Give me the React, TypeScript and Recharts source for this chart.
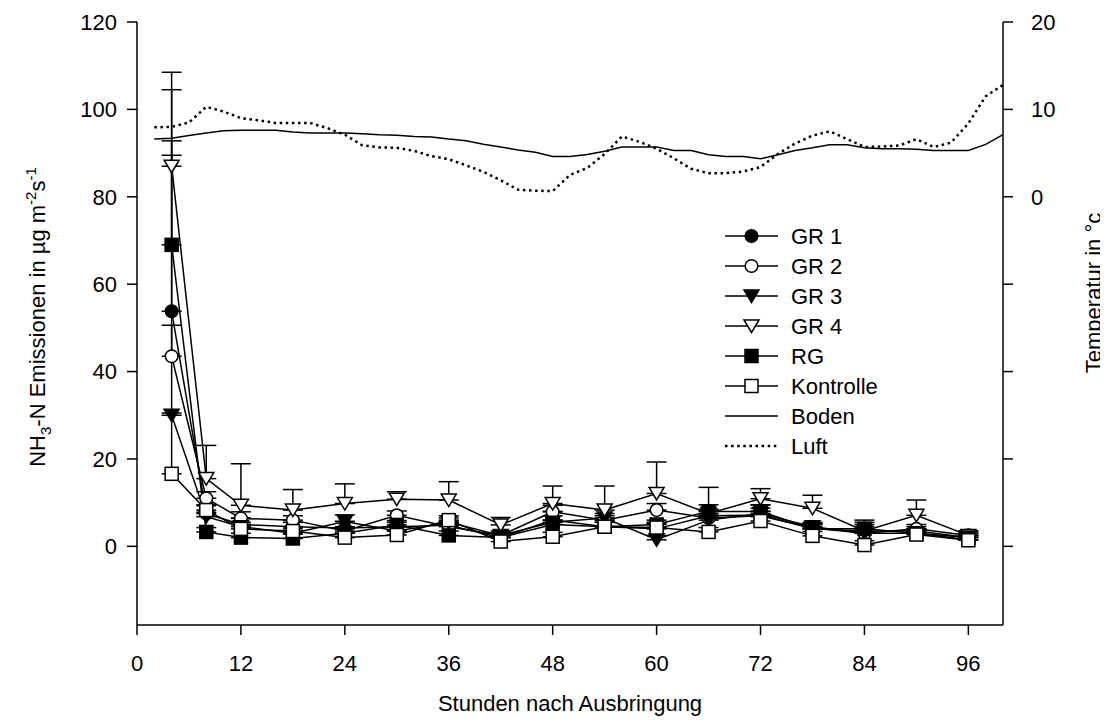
import React from "react";
import { ComposedChart, Line, XAxis, YAxis, ErrorBar, Label } from "recharts";

// hours after application (emission sampling)
const hours = [4, 8, 12, 18, 24, 30, 36, 42, 48, 54, 60, 66, 72, 78, 84, 90, 96];

const gr1 = [53.8, 7.5, 5.0, 4.5, 4.2, 4.5, 4.8, 2.0, 6.0, 4.5, 4.0, 7.0, 7.2, 4.0, 3.5, 3.5, 2.0];
const gr2 = [43.5, 11.0, 6.4, 6.0, 3.5, 7.1, 4.5, 2.5, 7.9, 6.0, 8.3, 6.5, 7.0, 4.2, 3.0, 4.0, 2.5];
const gr3 = [30.0, 6.8, 4.5, 3.0, 5.7, 3.5, 5.5, 2.5, 5.5, 6.5, 1.5, 6.0, 7.5, 4.5, 3.0, 3.0, 1.5];
const gr4 = [87.0, 15.5, 9.4, 8.3, 9.8, 10.8, 10.6, 4.9, 9.8, 8.3, 12.1, 7.5, 10.9, 8.7, 3.5, 7.1, 2.5];
const rg = [69.0, 3.3, 2.0, 1.8, 3.0, 4.9, 2.5, 2.0, 5.0, 4.5, 5.0, 8.0, 8.0, 4.0, 4.0, 3.0, 2.0];
const kontrolle = [16.6, 8.3, 4.0, 3.5, 2.0, 2.6, 6.0, 1.1, 2.2, 4.5, 4.3, 3.3, 5.8, 2.4, 0.3, 2.7, 1.4];

// upper error bars only
const gr1Err = [39, 2, 1.5, 1, 1.5, 1, 1, 1, 2, 1.5, 1.5, 1.5, 1.5, 1, 1.5, 1, 1];
const gr2Err = [46, 1.5, 1.5, 1, 1, 1, 1, 0.5, 1.5, 1, 1.5, 1, 1, 1, 1, 1, 1];
const gr3Err = [0.5, 1, 1, 1, 1.5, 1, 1, 1, 1.5, 1, 1, 1, 2, 1, 1.5, 1, 1];
const gr4Err = [21.5, 7.6, 9.5, 4.7, 4.5, 1.7, 4.2, 1.7, 4.0, 5.5, 7.2, 6.0, 2.3, 3.0, 2.5, 3.5, 1.0];
const rgErr = [35.5, 1, 1, 1, 1, 1, 1, 1, 1, 1, 1, 1.5, 1.5, 1, 1.5, 1, 1];
const kontrolleErr = [34, 1, 1, 1, 1, 1, 1, 1, 1, 1, 1, 1, 1, 1, 1, 1, 1];

// temperature (right axis)
const tempHours = [
  2, 4, 6, 8, 10, 12, 14, 16, 18, 20, 22, 24, 26, 28, 30, 32, 34, 36, 38, 40, 42, 44, 46, 48, 50,
  52, 54, 56, 58, 60, 62, 64, 66, 68, 70, 72, 74, 76, 78, 80, 82, 84, 86, 88, 90, 92, 94, 96, 98, 100,
];
const boden = [
  6.6, 6.7, 7.0, 7.3, 7.55, 7.6, 7.6, 7.6, 7.4, 7.3, 7.3, 7.3, 7.2, 7.1, 7.05, 6.9, 6.85, 6.6, 6.4, 6.0,
  5.7, 5.35, 5.1, 4.6, 4.6, 4.85, 5.2, 5.7, 5.7, 5.7, 5.3, 5.3, 4.8, 4.6, 4.6, 4.35, 4.8, 5.3, 5.6, 5.95,
  5.95, 5.6, 5.5, 5.5, 5.45, 5.3, 5.3, 5.3, 6.0, 7.1,
];
const luft = [
  7.95, 8.0, 8.5, 10.3, 9.75, 9.0, 8.75, 8.45, 8.45, 8.45, 7.85, 7.1, 5.9, 5.65, 5.6, 5.25, 4.65, 4.3, 3.6, 2.85,
  1.9, 0.8, 0.7, 0.65, 2.5, 3.3, 4.9, 6.9, 6.3, 5.5, 4.4, 3.2, 2.7, 2.7, 2.9, 3.4, 4.9, 6.1, 7.0, 7.5,
  6.6, 5.7, 5.75, 5.86, 6.6, 5.7, 6.2, 8.4, 11.5, 12.8,
];

const xTicks = [0, 12, 24, 36, 48, 60, 72, 84, 96];
const leftTicks = [0, 20, 40, 60, 80, 100, 120];
const rightTicks = [-40, -30, -20, -10, 0, 10, 20];

const emissionData = hours.map((h, i) => ({
  h,
  gr1: gr1[i],
  gr2: gr2[i],
  gr3: gr3[i],
  gr4: gr4[i],
  rg: rg[i],
  kontrolle: kontrolle[i],
  gr1Err: [0, gr1Err[i]],
  gr2Err: [0, gr2Err[i]],
  gr3Err: [0, gr3Err[i]],
  gr4Err: [0, gr4Err[i]],
  rgErr: [0, rgErr[i]],
  kontrolleErr: [0, kontrolleErr[i]],
}));
const bodenData = tempHours.map((h, i) => ({ h, t: boden[i] }));
const luftData = tempHours.map((h, i) => ({ h, t: luft[i] }));

const FONT = "'Liberation Sans', Arial, Helvetica, sans-serif";
const LUFT_DASH = "2.5 3.6";

type Kind = "circleFilled" | "circleOpen" | "triFilled" | "triOpen" | "squareFilled" | "squareOpen";

const Marker = ({ cx, cy, kind }: { cx: number; cy: number; kind: Kind }) => {
  const fill = kind.endsWith("Filled") ? "#000" : "#fff";
  if (kind.startsWith("circle")) {
    return <circle cx={cx} cy={cy} r={6.3} fill={fill} stroke="#000" strokeWidth={1.5} />;
  }
  if (kind.startsWith("square")) {
    return <rect x={cx - 6.5} y={cy - 6.5} width={13} height={13} fill={fill} stroke="#000" strokeWidth={1.5} />;
  }
  return (
    <path
      d={`M${cx - 7.5},${cy - 6} L${cx + 7.5},${cy - 6} L${cx},${cy + 6.5} Z`}
      fill={fill}
      stroke="#000"
      strokeWidth={1.5}
      strokeLinejoin="miter"
    />
  );
};

const dotFor = (kind: Kind) => (props: any) => {
  const { cx, cy, index } = props;
  if (cx == null || cy == null) return <g key={`${kind}-${index}`} />;
  return <Marker key={`${kind}-${index}`} cx={cx} cy={cy} kind={kind} />;
};

const series: { key: string; name: string; kind: Kind }[] = [
  { key: "gr1", name: "GR 1", kind: "circleFilled" },
  { key: "gr2", name: "GR 2", kind: "circleOpen" },
  { key: "gr3", name: "GR 3", kind: "triFilled" },
  { key: "gr4", name: "GR 4", kind: "triOpen" },
  { key: "rg", name: "RG", kind: "squareFilled" },
  { key: "kontrolle", name: "Kontrolle", kind: "squareOpen" },
];

const LeftTitle = () => (
  <text
    transform="translate(37, 309) rotate(-90)"
    textAnchor="middle"
    fontFamily={FONT}
    fontSize={22}
    fill="#000"
  >
    NH<tspan fontSize={15} dy={6}>3</tspan>
    <tspan dy={-6}>-N Emissionen in µg m</tspan>
    <tspan fontSize={15} dy={-9}>-2</tspan>
    <tspan dy={9}>s</tspan>
    <tspan fontSize={15} dy={-9}>-1</tspan>
  </text>
);

const RightTitle = () => (
  <text
    transform="translate(1093, 285) rotate(-90)"
    textAnchor="middle"
    fontFamily={FONT}
    fontSize={22}
    fill="#000"
  >
    Temperatur in °c
  </text>
);

const BottomTitle = () => (
  <text x={562} y={703} textAnchor="middle" fontFamily={FONT} fontSize={22} fill="#000">
    Stunden nach Ausbringung
  </text>
);

const LegendBox = () => {
  const rows = [
    ...series.map((s) => ({ name: s.name, kind: s.kind as Kind | "boden" | "luft" })),
    { name: "Boden", kind: "boden" as const },
    { name: "Luft", kind: "luft" as const },
  ];
  return (
    <svg
      width={220}
      height={250}
      style={{ position: "absolute", left: 717, top: 213, overflow: "visible" }}
    >
      {rows.map((r, i) => {
        const y = 15 + i * 30;
        return (
          <g key={r.name}>
            <line
              x1={0}
              x2={53}
              y1={y}
              y2={y}
              stroke="#000"
              strokeWidth={r.kind === "luft" ? 2.5 : 1.5}
              strokeDasharray={r.kind === "luft" ? LUFT_DASH : undefined}
            />
            {r.kind !== "boden" && r.kind !== "luft" && <Marker cx={26.5} cy={y} kind={r.kind} />}
            <text x={66} y={y} dy="0.36em" fontFamily={FONT} fontSize={22} fill="#000">
              {r.name}
            </text>
          </g>
        );
      })}
    </svg>
  );
};

const axisStroke = { stroke: "#000", strokeWidth: 1.5 };
const tickStyle = { fill: "#000", fontSize: 22, fontFamily: FONT };

export default function App() {
  return (
    <div style={{ position: "relative", width: 1100, height: 712 }}>
      <ComposedChart
        width={1100}
        height={712}
        data={emissionData}
        margin={{ top: 14, right: 0, bottom: 0, left: 0 }}
        style={{ overflow: "visible" }}
      >
        <XAxis
          type="number"
          dataKey="h"
          domain={[0, 100]}
          ticks={xTicks}
          allowDataOverflow
          height={95}
          tickSize={10}
          tickMargin={20}
          axisLine={axisStroke}
          tickLine={axisStroke}
          tick={tickStyle}
        >
          <Label content={BottomTitle} />
        </XAxis>
        <YAxis
          yAxisId="left"
          domain={[-18, 120]}
          ticks={leftTicks}
          allowDataOverflow
          width={129}
          tickSize={10}
          tickMargin={10}
          axisLine={axisStroke}
          tickLine={axisStroke}
          tick={tickStyle}
        >
          <Label content={LeftTitle} />
        </YAxis>
        <YAxis
          yAxisId="right"
          orientation="right"
          domain={[-49, 20]}
          ticks={rightTicks}
          tickFormatter={(v: number) => (v >= 0 ? String(v) : "")}
          allowDataOverflow
          width={105}
          tickSize={10}
          tickMargin={18}
          axisLine={axisStroke}
          tickLine={axisStroke}
          tick={tickStyle}
        >
          <Label content={RightTitle} />
        </YAxis>

        <Line
          yAxisId="right"
          data={bodenData}
          dataKey="t"
          name="Boden"
          type="linear"
          stroke="#000"
          strokeWidth={1.5}
          dot={false}
          activeDot={false}
          isAnimationActive={false}
        />
        <Line
          yAxisId="right"
          data={luftData}
          dataKey="t"
          name="Luft"
          type="linear"
          stroke="#000"
          strokeWidth={2.5}
          strokeDasharray={LUFT_DASH}
          dot={false}
          activeDot={false}
          isAnimationActive={false}
        />

        {series.map((s) => (
          <Line
            key={s.key}
            yAxisId="left"
            dataKey={s.key}
            name={s.name}
            type="linear"
            stroke="#000"
            strokeWidth={1.5}
            dot={dotFor(s.kind)}
            activeDot={false}
            isAnimationActive={false}
          >
            <ErrorBar dataKey={`${s.key}Err`} direction="y" width={10} stroke="#000" strokeWidth={1.5} />
          </Line>
        ))}
      </ComposedChart>
      <LegendBox />
    </div>
  );
}
